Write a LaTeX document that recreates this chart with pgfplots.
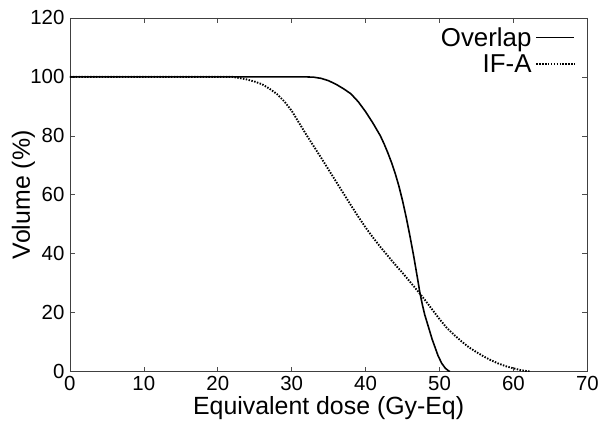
\documentclass[border=0pt]{standalone}
\usepackage{fontspec}
\setmainfont{Liberation Sans}
\usepackage{pgfplots}
\pgfplotsset{compat=1.18}

\begin{document}
\begin{tikzpicture}
\begin{axis}[
    name=main,
    scale only axis,
    width=518bp, height=354bp,
    xmin=0, xmax=70,
    ymin=0, ymax=120,
    xtick={0,10,...,70},
    ytick={0,20,...,120},
    tick align=inside,
    major tick length=5bp,
    tick style={black!70, line width=0.6pt},
    axis line style={black!75, line width=0.8pt},
    /pgf/number format/assume math mode=true,
    ticklabel style={font=\fontsize{20.5}{22}\selectfont},
    xticklabel style={yshift=-1bp},
    yticklabel style={xshift=-2bp},
    xlabel={Equivalent dose (Gy-Eq)},
    ylabel={Volume (\%)},
    label style={font=\fontsize{25}{27}\selectfont},
    xlabel style={at={(axis description cs:0.5,-0.102)}, anchor=center},
    ylabel style={at={(axis description cs:-0.09,0.5)}, anchor=center},
    legend style={draw=none, fill=none, at={(0.983,0.982)}, anchor=north east,
        font=\fontsize{26}{28}\selectfont, row sep=5bp,
        nodes={inner xsep=4bp, inner ysep=1bp}},
    legend cell align=right,
    legend plot pos=right,
    legend image code/.code={\draw[#1] plot coordinates {(0bp,0bp) (19bp,0bp) (38bp,0bp)};},
]
\addplot[black, line width=1.6pt] coordinates {
(0,100)(10,100)(20,100)(30,100)(32,100)(33,99.9)(34,99.5)(35,98.7)(36,97.5)
(37,96)(38,94.3)(39,91.6)(40,88.2)(41,84.3)(42,80)(42.5,77.3)(43,74.3)(43.5,71)
(44,67.3)(44.5,63)(45,58)(45.5,52.3)(46,46)(46.5,39.3)(47,32)(47.35,26.7)
(47.7,22.5)(48,19.3)(48.4,16)(48.7,13.5)(49,11)(49.5,7.5)(49.8,5.4)(50.3,2.8)
(50.8,1.1)(51.2,0.3)(51.4,0)
};
\addlegendentry{Overlap}
\addplot[black, line width=1.9pt, dash pattern=on 1.5pt off 1.4pt] coordinates {
(0,100)(10,100)(20,100)(22,100)(23,99.6)(24,99.1)(25,98.4)(26,97.5)(27,96)
(28,94.2)(29,91.7)(30,88.5)(31,84.4)(32,80.3)(33,76.4)(34,72.5)(35,68.5)
(36,64.5)(37,60.5)(38,56.5)(39,52.6)(40,48.9)(41,45.5)(42,42.3)(43,39.3)
(44,36.3)(45,33.5)(46,30.5)(47,27.5)(48,24.4)(49,21.1)(50,17.8)(51,14.8)
(52,12.4)(53,10.2)(54,8.2)(55,6.6)(56,5.1)(57,3.8)(58,2.7)(59,1.8)(60,1.1)
(61,0.5)(62,0.1)(62.3,0)
};
\addlegendentry{IF-A}
\end{axis}
\path[use as bounding box] ([xshift=-70bp,yshift=-57bp]main.south west)
    rectangle ([xshift=14bp,yshift=18bp]main.north east);
\end{tikzpicture}
\end{document}
